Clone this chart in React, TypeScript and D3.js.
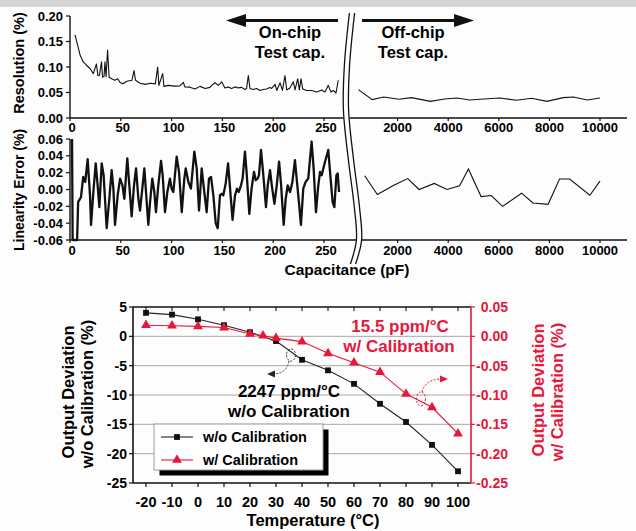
import React from "react";
import * as d3 from "d3";

// ---------- Data ----------
const resCap = [4.9, 7.5, 10, 13, 16.4, 19.7, 23, 26, 27.5, 29, 31, 32, 33.5, 34.4, 35.5, 37, 38.5, 41, 44, 47, 49, 52, 56, 61, 63, 64.5, 69, 74, 79, 84, 86.3, 87.5, 91.2, 92.5, 97, 103, 108, 111.6, 113, 118, 123, 128, 133, 137.8, 139.4, 142.7, 146, 149.3, 152.5, 155.8, 159, 162.4, 165.6, 168.9, 172.2, 173.8, 175.5, 177.1, 180.4, 183.7, 186.9, 190.2, 193.5, 196.7, 198.4, 201.9, 203.5, 206.8, 209.1, 211.6, 213.3, 216.5, 219.8, 221.5, 224.1, 225.7, 227.4, 229, 232.9, 237.9, 242.8, 247.7, 251, 254.2, 256.8, 259.2, 261.8, 264];
const resVal = [0.163, 0.143, 0.123, 0.11, 0.103, 0.097, 0.087, 0.106, 0.083, 0.084, 0.11, 0.08, 0.082, 0.11, 0.081, 0.133, 0.08, 0.077, 0.074, 0.077, 0.07, 0.067, 0.072, 0.074, 0.093, 0.074, 0.068, 0.066, 0.068, 0.067, 0.1, 0.064, 0.087, 0.062, 0.064, 0.0625, 0.063, 0.07, 0.061, 0.0605, 0.057, 0.062, 0.058, 0.06, 0.064, 0.069, 0.064, 0.071, 0.059, 0.061, 0.058, 0.061, 0.059, 0.06, 0.056, 0.058, 0.083, 0.058, 0.056, 0.058, 0.054, 0.056, 0.057, 0.06, 0.058, 0.066, 0.054, 0.069, 0.054, 0.083, 0.055, 0.059, 0.071, 0.055, 0.077, 0.055, 0.077, 0.057, 0.054, 0.054, 0.051, 0.055, 0.051, 0.064, 0.051, 0.054, 0.049, 0.074];

const linCap = [2, 2.6, 7, 8, 10.8, 13, 15, 17.4, 19.7, 20.7, 23, 25.3, 27.2, 28.9, 31.2, 33.1, 36.1, 38.7, 41, 42.7, 44.3, 46.9, 49.3, 51.6, 53.5, 56.4, 58.4, 60.7, 63, 65, 67.3, 68.9, 71.5, 73.2, 74.8, 77.1, 78.8, 81, 83, 84.6, 86.9, 89.6, 91.2, 93.5, 95.8, 98.4, 100, 101.7, 105, 107.3, 110, 112.5, 113.9, 116.5, 119, 122.4, 124.7, 127, 129.6, 132.2, 134.5, 136.8, 138.8, 141.1, 143.4, 145.4, 147.6, 149.3, 150.9, 153.2, 155.6, 157.3, 160, 162.4, 164.4, 166, 168.3, 169.9, 172.2, 173.8, 176.5, 178.7, 181.1, 182.8, 184.7, 186, 188, 190, 192.9, 194.6, 196.9, 198.6, 201.2, 203.5, 205.8, 207.8, 210.3, 212.3, 214.3, 216.6, 218.9, 221.4, 223.4, 225.3, 227.3, 229.6, 231.9, 234.5, 237.8, 239.8, 242.1, 244.4, 246.1, 247.7, 251, 254.2, 256.2, 258.5, 260.2, 262.2, 263.5, 264.8];
const linVal = [0.06, -0.06, -0.06, -0.015, -0.009, 0.015, 0.009, 0.036, -0.007, -0.042, -0.003, 0.031, 0.005, -0.021, 0.031, 0.017, -0.046, -0.011, 0.023, 0.001, -0.042, -0.007, 0.013, 0.005, -0.011, 0.037, 0.005, -0.032, 0.005, 0.025, -0.011, -0.025, 0.005, 0.025, -0.003, -0.042, -0.015, 0.013, -0.003, -0.027, 0.005, 0.034, 0.017, -0.027, -0.003, 0.013, 0.001, -0.003, 0.039, 0.021, -0.027, 0.013, 0.025, 0.009, 0.001, 0.045, 0.025, -0.025, 0.025, -0.003, -0.027, 0.013, 0.015, -0.007, -0.04, -0.046, -0.007, -0.005, -0.007, 0.007, 0.031, 0.005, -0.036, -0.007, 0.001, -0.003, 0.005, 0.013, 0.045, 0.021, -0.029, 0.001, 0.021, 0.011, 0.013, 0.017, 0.047, 0.021, -0.021, 0.005, 0.023, 0.005, -0.017, 0.005, 0.033, 0.005, -0.042, -0.011, 0.005, -0.003, 0.009, 0.035, 0.009, -0.015, -0.042, 0.001, 0.009, 0.013, 0.057, 0.025, -0.027, 0.005, 0.021, 0.017, 0.033, 0.047, 0.017, -0.015, -0.021, 0.017, 0.019, -0.003];

const resCapOff = [450, 1000, 1450, 2050, 2550, 3300, 3850, 4350, 4850, 5400, 6050, 6700, 7300, 7900, 8550, 8950, 9500, 10000];
const resValOff = [0.0557, 0.0361, 0.0412, 0.0367, 0.04, 0.0327, 0.0373, 0.0392, 0.0353, 0.0373, 0.0392, 0.0347, 0.0386, 0.0327, 0.04, 0.0412, 0.0353, 0.0392];

const linCapOff = [700, 1200, 1850, 2400, 2850, 3450, 3950, 4450, 4800, 5300, 5700, 6150, 6900, 7350, 7950, 8400, 8800, 9600, 10000];
const linValOff = [0.0163, -0.006, 0.005, 0.013, 0.0, 0.0072, 0.0, 0.0044, 0.0244, -0.0084, -0.0072, -0.02, -0.0044, -0.016, -0.0176, 0.0124, 0.0124, -0.0068, 0.01];

const capTicksOn = [0, 50, 100, 150, 200, 250];
const capTicksOff = [2000, 4000, 6000, 8000, 10000];
const resTicks = [0, 0.05, 0.1, 0.15, 0.2];
const linTicks = [-0.06, -0.04, -0.02, 0, 0.02, 0.04, 0.06];

const tempsWo = [-20, -10, 0, 10, 20, 30, 40, 50, 60, 70, 80, 90, 100];
const devWo = [4.0, 3.7, 2.9, 1.9, 0.7, -0.8, -4.0, -5.8, -8.1, -11.5, -14.6, -18.5, -23.0];
const tempsW = [-20, -10, 0, 10, 20, 25, 30, 40, 50, 60, 70, 80, 90, 100];
const devW = [0.019, 0.018, 0.017, 0.015, 0.004, 0.001, -0.003, -0.009, -0.029, -0.045, -0.061, -0.098, -0.121, -0.166];

const tempTicks = [-20, -10, 0, 10, 20, 30, 40, 50, 60, 70, 80, 90, 100];
const leftTicks = [5, 0, -5, -10, -15, -20, -25];
const gridTicks = [0, -5, -10, -15, -20];
const rightTicks = [0.05, 0, -0.05, -0.1, -0.15, -0.2, -0.25];

const seriesLabels = ["w/o Calibration", "w/ Calibration"];

// ---------- Styles ----------
const FONT = "'Liberation Sans', Arial, Helvetica, sans-serif";
const RED = "#e5173b";
const INK = "#111";

// ---------- Scales ----------
const xOn = d3.scaleLinear().domain([0, 250]).range([70, 324]);
const xOff = d3.scaleLinear().domain([0, 10000]).range([347, 600]);
const yRes = d3.scaleLinear().domain([0, 0.2]).range([118, 16]);
const yLin = d3.scaleLinear().domain([-0.06, 0.06]).range([240, 139]);

const xT = d3.scaleLinear().domain([-25, 105]).range([133, 471]);
const yL = d3.scaleLinear().domain([-25, 5]).range([483, 307]);
const yR = d3.scaleLinear().domain([-0.25, 0.05]).range([483, 307]);

const f2 = d3.format(".2f");
const fmt2 = (v: number) => (Math.abs(v) < 1e-9 ? "0.00" : f2(v).replace("−", "-"));

function linePath(xs: number[], ys: number[], sx: any, sy: any) {
  const pts = xs.map((x, i) => [x, ys[i]] as [number, number]);
  return d3.line<[number, number]>().x((d) => sx(d[0])).y((d) => sy(d[1]))(pts) || "";
}

const breakPts: [number, number][] = [
  [352, 13], [347, 65], [346, 110], [351, 160], [357, 208], [359, 240], [353, 264],
];
function breakPath(dx: number) {
  return d3.line<[number, number]>().x((d) => d[0] + dx).y((d) => d[1]).curve(d3.curveCatmullRom)(breakPts) || "";
}

export default function App() {
  const sq = d3.symbol().type(d3.symbolSquare).size(34)() || "";
  const tri = d3.symbol().type(d3.symbolTriangle).size(42)() || "";

  return (
    <svg
      width={636}
      height={531}
      viewBox="0 0 636 531"
      style={{ position: "absolute", left: 0, top: 0, background: "#fdfdfd" }}
      fontFamily={FONT}
      fontWeight="bold"
    >
      <rect x={0} y={0} width={636} height={7} fill="#d6d6d6" />

      {/* ===== Top panel: Resolution ===== */}
      <line x1={70} x2={70} y1={yRes(0.2)} y2={yRes(0)} stroke={INK} strokeWidth={1.4} />
      <line x1={70} x2={627} y1={yRes(0)} y2={yRes(0)} stroke={INK} strokeWidth={1.4} />
      {resTicks.map((t) => (
        <g key={"rt" + t}>
          <line x1={66} x2={70} y1={yRes(t)} y2={yRes(t)} stroke={INK} strokeWidth={1.2} />
          <text x={63} y={yRes(t)} dy="0.35em" textAnchor="end" fontSize={13}>{fmt2(t)}</text>
        </g>
      ))}
      {capTicksOn.map((t) => (
        <g key={"ct" + t}>
          <line x1={xOn(t)} x2={xOn(t)} y1={118} y2={121} stroke={INK} strokeWidth={1.2} />
          <text x={xOn(t) + 2} y={132} textAnchor="middle" fontSize={13}>{t}</text>
        </g>
      ))}
      {capTicksOff.map((t) => (
        <g key={"cto" + t}>
          <line x1={xOff(t)} x2={xOff(t)} y1={118} y2={121} stroke={INK} strokeWidth={1.2} />
          <text x={xOff(t)} y={132} textAnchor="middle" fontSize={13}>{t}</text>
        </g>
      ))}
      <path d={linePath(resCap, resVal, xOn, yRes)} fill="none" stroke={INK} strokeWidth={1.1} strokeLinejoin="round" />
      <path d={linePath(resCapOff, resValOff, xOff, yRes)} fill="none" stroke={INK} strokeWidth={1.1} />
      <text transform={`translate(24,${63}) rotate(-90)`} textAnchor="middle" fontSize={14.5}>Resolution (%)</text>

      {/* ===== Middle panel: Linearity ===== */}
      <line x1={70} x2={70} y1={yLin(0.06)} y2={yLin(-0.06)} stroke={INK} strokeWidth={1.4} />
      <line x1={70} x2={627} y1={yLin(-0.06)} y2={yLin(-0.06)} stroke={INK} strokeWidth={1.4} />
      {linTicks.map((t) => (
        <g key={"lt" + t}>
          <line x1={66} x2={70} y1={yLin(t)} y2={yLin(t)} stroke={INK} strokeWidth={1.2} />
          <text x={63} y={yLin(t)} dy="0.35em" textAnchor="end" fontSize={13}>{fmt2(t)}</text>
        </g>
      ))}
      {capTicksOn.map((t) => (
        <g key={"ct2" + t}>
          <line x1={xOn(t)} x2={xOn(t)} y1={240} y2={243} stroke={INK} strokeWidth={1.2} />
          <text x={xOn(t) + 2} y={255} textAnchor="middle" fontSize={13}>{t}</text>
        </g>
      ))}
      {capTicksOff.map((t) => (
        <g key={"cto2" + t}>
          <line x1={xOff(t)} x2={xOff(t)} y1={240} y2={243} stroke={INK} strokeWidth={1.2} />
          <text x={xOff(t)} y={255} textAnchor="middle" fontSize={13}>{t}</text>
        </g>
      ))}
      <path d={linePath(linCap, linVal, xOn, yLin)} fill="none" stroke={INK} strokeWidth={2.3} strokeLinejoin="round" />
      <path d={linePath(linCapOff, linValOff, xOff, yLin)} fill="none" stroke={INK} strokeWidth={1.1} />
      <text transform={`translate(24,${190}) rotate(-90)`} textAnchor="middle" fontSize={14}>Linearity Error (%)</text>
      <text x={347} y={275} textAnchor="middle" fontSize={15.5}>Capacitance (pF)</text>

      {/* Break marks */}
      <path d={breakPath(0)} fill="none" stroke="#fdfdfd" strokeWidth={6} />
      <path d={breakPath(-2.6)} fill="none" stroke={INK} strokeWidth={1.3} />
      <path d={breakPath(2.6)} fill="none" stroke={INK} strokeWidth={1.3} />

      {/* Arrows and region labels */}
      <line x1={243} x2={338} y1={20.5} y2={20.5} stroke={INK} strokeWidth={3} />
      <path d="M226,20.5 L246,14 L246,27 Z" fill={INK} />
      <line x1={362} x2={457} y1={20.5} y2={20.5} stroke={INK} strokeWidth={3} />
      <path d="M474,20.5 L454,14 L454,27 Z" fill={INK} />
      <text x={290} y={38} textAnchor="middle" fontSize={16.5}>On-chip</text>
      <text x={290} y={58} textAnchor="middle" fontSize={16.5}>Test cap.</text>
      <text x={413} y={38} textAnchor="middle" fontSize={16.5}>Off-chip</text>
      <text x={413} y={58} textAnchor="middle" fontSize={16.5}>Test cap.</text>

      {/* ===== Bottom chart: Temperature ===== */}
      {gridTicks.map((t) => (
        <line key={"g" + t} x1={133} x2={471} y1={yL(t)} y2={yL(t)} stroke="#a8a8a8" strokeWidth={1} />
      ))}
      <line x1={133} x2={471} y1={307} y2={307} stroke={INK} strokeWidth={1.3} />
      <line x1={133} x2={471} y1={483} y2={483} stroke={INK} strokeWidth={1.6} />
      <line x1={133} x2={133} y1={307} y2={483} stroke={INK} strokeWidth={1.6} />
      <line x1={471} x2={471} y1={307} y2={483} stroke={RED} strokeWidth={1.6} />
      {tempTicks.map((t) => (
        <g key={"tt" + t}>
          <line x1={xT(t)} x2={xT(t)} y1={483} y2={487} stroke={INK} strokeWidth={1.2} />
          <line x1={xT(t)} x2={xT(t)} y1={307} y2={311} stroke={INK} strokeWidth={1.1} />
          <text x={xT(t)} y={507} textAnchor="middle" fontSize={14.5}>{t}</text>
        </g>
      ))}
      {leftTicks.map((t) => (
        <g key={"yl" + t}>
          <line x1={129} x2={133} y1={yL(t)} y2={yL(t)} stroke={INK} strokeWidth={1.2} />
          <text x={127} y={yL(t)} dy="0.35em" textAnchor="end" fontSize={14}>{t}</text>
        </g>
      ))}
      {rightTicks.map((t) => (
        <g key={"yr" + t}>
          <line x1={471} x2={475} y1={yR(t)} y2={yR(t)} stroke={RED} strokeWidth={1.2} />
          <text x={508} y={yR(t)} dy="0.35em" textAnchor="end" fontSize={14} fill={RED}>{fmt2(t)}</text>
        </g>
      ))}
      <text x={313} y={526} textAnchor="middle" fontSize={16.5}>Temperature (°C)</text>
      <text transform="translate(74,392) rotate(-90)" textAnchor="middle" fontSize={16.5}>Output Deviation</text>
      <text transform="translate(93,394) rotate(-90)" textAnchor="middle" fontSize={16.5}>w/o Calibration (%)</text>
      <text transform="translate(544,390) rotate(-90)" textAnchor="middle" fontSize={16.5} fill={RED}>Output Deviation</text>
      <text transform="translate(563,392) rotate(-90)" textAnchor="middle" fontSize={16.5} fill={RED}>w/ Calibration (%)</text>

      {/* series */}
      <path d={linePath(tempsWo, devWo, xT, yL)} fill="none" stroke="#222" strokeWidth={1.1} />
      {tempsWo.map((t, i) => (
        <path key={"sq" + t} d={sq} transform={`translate(${xT(t)},${yL(devWo[i])})`} fill="#111" />
      ))}
      <path d={linePath(tempsW, devW, xT, yR)} fill="none" stroke={RED} strokeWidth={1.1} />
      {tempsW.map((t, i) => (
        <path key={"tr" + t} d={tri} transform={`translate(${xT(t)},${yR(devW[i])})`} fill={RED} />
      ))}

      {/* annotations */}
      <text x={289} y={397} textAnchor="middle" fontSize={17}>2247 ppm/°C</text>
      <text x={289} y={417} textAnchor="middle" fontSize={17}>w/o Calibration</text>
      <text x={400} y={332} textAnchor="middle" fontSize={17} fill={RED}>15.5 ppm/°C</text>
      <text x={399} y={352} textAnchor="middle" fontSize={17} fill={RED}>w/ Calibration</text>

      <ellipse cx={291} cy={355} rx={4.5} ry={6} fill="none" stroke="#333" strokeWidth={1} strokeDasharray="2,1.5" />
      <path d="M289,361 Q287,373 274,374" fill="none" stroke="#333" strokeWidth={1} strokeDasharray="2,1.5" />
      <path d="M267,374 L275,370.5 L275,377.5 Z" fill="#222" />
      <ellipse cx={421} cy={399} rx={4.5} ry={7} fill="none" stroke={RED} strokeWidth={1} strokeDasharray="2,1.5" />
      <path d="M422,392 Q425,380 440,379" fill="none" stroke={RED} strokeWidth={1} strokeDasharray="2,1.5" />
      <path d="M448,379 L440,375.5 L440,382.5 Z" fill={RED} />

      {/* legend */}
      <rect x={159.5} y={429.5} width={169} height={46} fill="#000" />
      <rect x={154} y={424} width={169} height={46} fill="#fff" stroke="#999" strokeWidth={1} />
      <line x1={161} x2={193} y1={437} y2={437} stroke="#222" strokeWidth={1.1} />
      <path d={sq} transform="translate(177,437)" fill="#111" />
      <text x={203} y={437} dy="0.35em" fontSize={14.5}>{seriesLabels[0]}</text>
      <line x1={161} x2={193} y1={460} y2={460} stroke={RED} strokeWidth={1.1} />
      <path d={tri} transform="translate(177,460)" fill={RED} />
      <text x={203} y={460} dy="0.35em" fontSize={14.5}>{seriesLabels[1]}</text>
    </svg>
  );
}
